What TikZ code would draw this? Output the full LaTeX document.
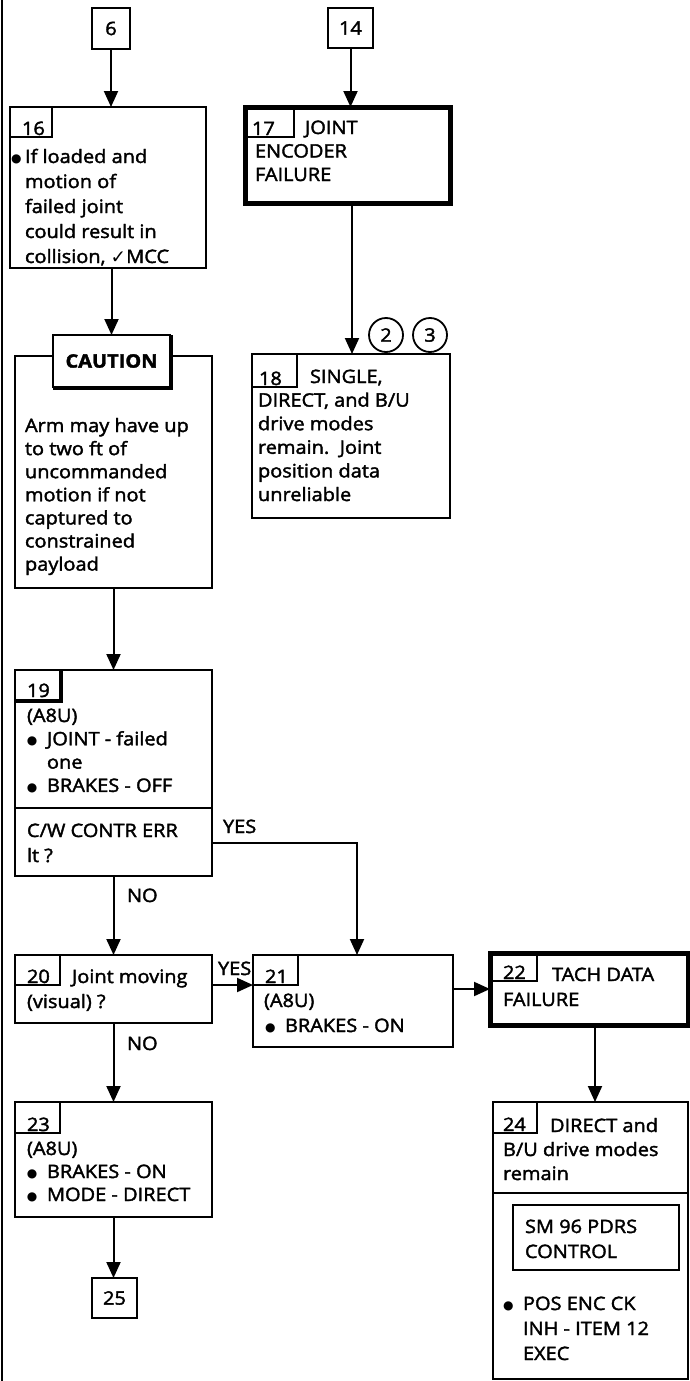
\documentclass[tikz,border=0pt]{standalone}
\usepackage{fontspec}
\setmainfont{Open Sans}[FakeStretch=1.08,FakeBold=2]
\newfontfamily\symf{DejaVu Sans}
\usetikzlibrary{arrows.meta,calc}
\newcommand\ml[2][23.5pt]{\vtop{\baselineskip=#1\relax\lineskiplimit=-100pt\relax\halign{##\hfil\cr#2\crcr}}}
\newcommand\bul[1][20pt]{\llap{\makebox[#1][l]{\raisebox{0.5pt}{\symf\fontsize{12}{12}\selectfont ●}}}}
\begin{document}
\begin{tikzpicture}[x=1pt,y=-1pt,
  base/.style={font=\fontsize{18.5}{23.5}\selectfont},
  box/.style={base,draw,line width=2pt,inner sep=0pt,outer sep=0pt,anchor=north west},
  heavy/.style={box,line width=5pt},
  tagbox/.style={draw,line width=1.6pt,inner sep=0pt,outer sep=0pt,anchor=north west},
  txt/.style={base,inner sep=0pt,outer sep=0pt,anchor=base west},
  arr/.style={line width=2pt,-{Triangle[length=16pt,width=14pt]}},
  ring/.style={base,circle,draw,line width=1.8pt,minimum size=34pt,inner sep=0pt}]
\fill[white] (0,0) rectangle (689,1381);
\useasboundingbox (0,0) rectangle (689,1381);
\draw[line width=2.5pt] (2,0) -- (2,1381);

% top connectors boxes
\node[box,minimum width=38pt,minimum height=41pt] (b6) at (92,8) {6};
\node[box,minimum width=45pt,minimum height=40pt] (b14) at (328,8) {14};

% box 16
\node[box,minimum width=196pt,minimum height=161pt] (b16) at (10,107) {};
\node[tagbox,minimum width=42pt,minimum height=30pt] (t16) at (10,107) {};
\node[txt] (n16) at (22,135) {16};
\node[txt] (x16) at (25,163) {\ml[25pt]{\bul[14pt]If loaded and\cr motion of\cr failed joint\cr could result in\cr collision, {\symf ✓}MCC}};

% box 17
\node[heavy,minimum width=205pt,minimum height=96pt] (b17) at (245,107) {};
\node[tagbox,minimum width=49pt,minimum height=30pt] (t17) at (245,107) {};
\node[txt] (n17) at (252,135) {17};
\node[txt] (x17) at (255,134) {\ml{\hspace*{50pt}JOINT\cr ENCODER\cr FAILURE}};

% box 18
\node[box,minimum width=198pt,minimum height=164pt] (b18) at (252,354) {};
\node[tagbox,minimum width=45pt,minimum height=33pt] (t18) at (252,354) {};
\node[txt] (n18) at (259,385) {18};
\node[txt] (x18) at (258,383) {\ml[23.6pt]{\hspace*{52pt}SINGLE,\cr DIRECT, and B/U\cr drive modes\cr remain.\ \ Joint\cr position data\cr unreliable}};
\node[ring] (c2) at (386,335) {2};
\node[ring] (c3) at (430,335) {3};

% caution
\node[box,minimum width=197pt,minimum height=232pt] (bc) at (15,356) {};
\node[box,fill=white,minimum width=117pt,minimum height=52pt,font=\fontsize{18.5}{23.5}\selectfont\bfseries] (ct) at (53,335) {CAUTION};
\draw[line width=4pt] ([shift={(1,0)}]ct.north east) -- ([shift={(1,1)}]ct.south east) -- ([shift={(0,1)}]ct.south west);
\node[txt] (xc) at (25,432) {\ml[23.1pt]{Arm may have up\cr to two ft of\cr uncommanded\cr motion if not\cr captured to\cr constrained\cr payload}};

% box 19
\node[box,minimum width=197pt,minimum height=206pt] (b19) at (15,670) {};
\draw[line width=2pt] ($(b19.north west)+(0,138)$) -- ($(b19.north east)+(0,138)$);
\node[tagbox,minimum width=45pt,minimum height=30pt] (t19) at (15,670) {};
\draw[line width=4pt] ([shift={(1,0)}]t19.north east) -- ([shift={(1,1)}]t19.south east) -- ([shift={(0,1)}]t19.south west);
\node[txt] (n19) at (27,697) {19};
\node[txt] (x19) at (27,722) {\ml[23.3pt]{(A8U)\cr\hspace*{20pt}\bul JOINT - failed\cr\hspace*{20pt}one\cr\hspace*{20pt}\bul BRAKES - OFF}};
\node[txt] (q19) at (27,837) {\ml[25pt]{C/W CONTR ERR\cr lt ?}};

% box 20
\node[box,minimum width=197pt,minimum height=68pt] (b20) at (15,955) {};
\node[tagbox,minimum width=45pt,minimum height=30pt] (t20) at (15,955) {};
\node[txt] (n20) at (27,983) {20};
\node[txt] (x20) at (27,983) {\ml[25pt]{\hspace*{45pt}Joint moving\cr (visual) ?}};

% box 21
\node[box,minimum width=200pt,minimum height=92pt] (b21) at (253,955) {};
\node[tagbox,minimum width=45pt,minimum height=30pt] (t21) at (253,955) {};
\node[txt] (n21) at (265,983) {21};
\node[txt] (x21) at (264,1007) {\ml[25pt]{(A8U)\cr\hspace*{21pt}\bul BRAKES - ON}};

% box 22
\node[heavy,minimum width=198pt,minimum height=72pt] (b22) at (490,953) {};
\node[tagbox,minimum width=47pt,minimum height=28pt] (t22) at (490,953) {};
\node[txt] (n22) at (503,979) {22};
\node[txt] (x22) at (503,981) {\ml[25pt]{\hspace*{49pt}TACH DATA\cr FAILURE}};

% box 23
\node[box,minimum width=197pt,minimum height=115pt] (b23) at (15,1102) {};
\node[tagbox,minimum width=45pt,minimum height=31pt] (t23) at (15,1102) {};
\node[txt] (n23) at (27,1131) {23};
\node[txt] (x23) at (27,1155) {\ml[23pt]{(A8U)\cr\hspace*{20pt}\bul BRAKES - ON\cr\hspace*{20pt}\bul MODE - DIRECT}};

% box 24
\node[box,minimum width=195pt,minimum height=277pt] (b24) at (493,1102) {};
\draw[line width=2pt] ($(b24.north west)+(0,91)$) -- ($(b24.north east)+(0,91)$);
\node[tagbox,minimum width=44pt,minimum height=31pt] (t24) at (493,1102) {};
\node[txt] (n24) at (503,1131) {24};
\node[txt] (x24) at (503,1132) {\ml[24pt]{\hspace*{47pt}DIRECT and\cr B/U drive modes\cr remain}};
\node[box,minimum width=166pt,minimum height=65pt] (b24i) at (513,1205) {};
\node[txt] (y24i) at (525,1233) {\ml[25pt]{SM 96 PDRS\cr CONTROL}};
\node[txt] (z24) at (523,1310) {\ml[25pt]{\bul POS ENC CK\cr INH - ITEM 12\cr EXEC}};

% box 25
\node[box,minimum width=45pt,minimum height=40pt] (b25) at (92,1278) {25};

% labels
\node[txt] (lyes1) at (223,833) {YES};
\node[txt] (lno1) at (127,902) {NO};
\node[txt] (lyes2) at (218,975) {YES};
\node[txt] (lno2) at (127,1050) {NO};

% helper coordinates
\coordinate (yyes) at (0,843);
\coordinate (xyes) at (357,0);
\coordinate (y2021) at (0,985);
\coordinate (x2224) at (595,0);
\coordinate (x1718) at (352,0);

% connectors
\draw[arr] (b6.south) -- (b6.south |- b16.north);
\draw[arr] (b14.south) -- (b14.south |- b17.north);
\draw[arr] (ct.north |- b16.south) -- (ct.north);
\draw[arr] (x1718 |- b17.south) -- (x1718 |- b18.north);
\draw[arr] (bc.south) -- (bc.south |- b19.north);
\draw[arr] (b19.east |- yyes) -- (xyes |- yyes) -- (xyes |- b21.north);
\draw[arr] (b19.south) -- (b19.south |- b20.north);
\draw[arr] (b20.east |- y2021) -- (b21.west |- y2021);
\draw[arr] (b20.south) -- (b20.south |- b23.north);
\draw[arr] (b21.east |- b22.west) -- (b22.west);
\draw[arr] (x2224 |- b22.south) -- (x2224 |- b24.north);
\draw[arr] (b23.south) -- (b23.south |- b25.north);
\end{tikzpicture}
\end{document}
